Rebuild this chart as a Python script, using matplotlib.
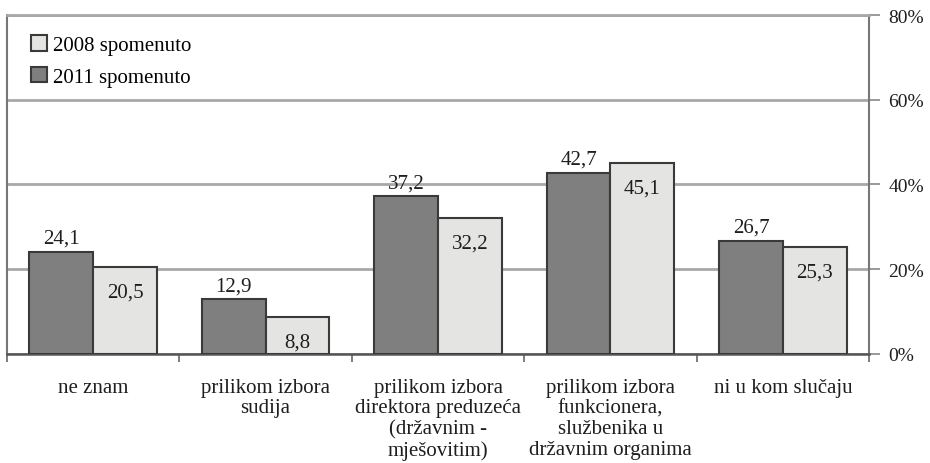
import numpy as np
import matplotlib.pyplot as plt

# podaci
kategorije = ['ne znam', 'prilikom izbora\nsudija',
              'prilikom izbora\ndirektora preduzeća\n(državnim -\nmješovitim)',
              'prilikom izbora\nfunkcionera,\nslužbenika u\ndržavnim organima',
              'ni u kom slučaju']
god_2011 = [24.1, 12.9, 37.2, 42.7, 26.7]
god_2008 = [20.5, 8.8, 32.2, 45.1, 25.3]
y_ticks = [0, 20, 40, 60, 80]

plt.rcParams['font.family'] = ['Liberation Serif', 'DejaVu Serif']
plt.rcParams['font.size'] = 15

fig = plt.figure(figsize=(9.3, 4.64), dpi=100)
ax = fig.add_axes([0.0075, 0.235, 0.927, 0.7305])

x = np.arange(len(kategorije))
w = 0.37
edge = '#3a3a3a'
txt = '#1e1e1e'
b11 = ax.bar(x - w / 2, god_2011, w, color='#7f7f7f', edgecolor=edge, linewidth=1.5,
             label='2011 spomenuto', zorder=3)
b08 = ax.bar(x + w / 2, god_2008, w, color='#e4e4e2', edgecolor=edge, linewidth=1.5,
             label='2008 spomenuto', zorder=3)

fmt = lambda v: f'{v:.1f}'.replace('.', ',')
ax.bar_label(b11, labels=[fmt(v) for v in god_2011], padding=3, color=txt)
ax.bar_label(b08, labels=[fmt(v) for v in god_2008], padding=-25, color=txt)

ax.set_xlim(-0.5, len(kategorije) - 0.5)
ax.set_ylim(0, 80)

# osa y desno
ax.yaxis.tick_right()
ax.set_yticks(y_ticks)
ax.set_yticklabels([f'{t}%' for t in y_ticks], color=txt, fontsize=14)
ax.tick_params(axis='y', length=8, width=1.2, color='#888888', pad=6)
ax.grid(axis='y', color='#a8a8a8', linewidth=2, zorder=0)

# osa x
ax.set_xticks(x)
ax.set_xticklabels(kategorije, color=txt, linespacing=1.12)
ax.tick_params(axis='x', length=0, pad=17)
ax.set_xticks(np.arange(-0.5, len(kategorije)), minor=True)
ax.tick_params(axis='x', which='minor', length=6, width=1.2, color='#666666')

for s in ['left', 'right']:
    ax.spines[s].set_color('#777777')
    ax.spines[s].set_linewidth(1.5)
ax.spines['top'].set_color('#a8a8a8')
ax.spines['top'].set_linewidth(2)
ax.spines['bottom'].set_color('#555555')
ax.spines['bottom'].set_linewidth(1.8)

h, l = ax.get_legend_handles_labels()
ax.legend(h[::-1], l[::-1], loc='upper left', bbox_to_anchor=(0.006, 0.995),
          frameon=False, handlelength=0.75, handleheight=0.75, handletextpad=0.3,
          labelspacing=0.55, fontsize=15)

fig.savefig('out.png', dpi=100)
